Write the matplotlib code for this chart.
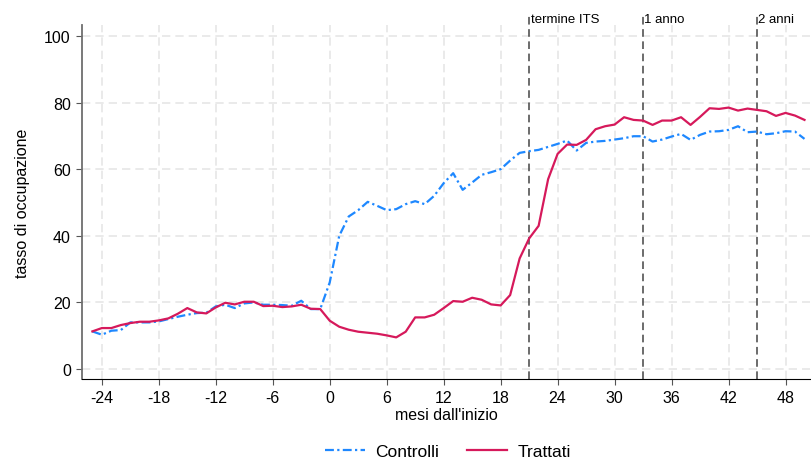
"""Tasso di occupazione: controlli vs trattati, mesi dall'inizio."""
import matplotlib

matplotlib.use("Agg")

import matplotlib.pyplot as plt

plt.rcParams["font.family"] = ["Liberation Sans", "DejaVu Sans"]
plt.rcParams["axes.unicode_minus"] = False

months = list(range(-25, 51))

controlli = [
    11.3, 10.3, 11.5, 11.7, 14.0, 14.0, 14.0, 14.3, 15.0, 15.7,
    16.3, 16.8, 16.9, 18.8, 19.3, 18.3, 19.7, 20.0, 19.3, 19.3,
    19.2, 19.0, 20.5, 18.0, 18.0, 26.0, 40.0, 45.8, 47.7, 50.2,
    49.0, 47.7, 48.0, 49.5, 50.4, 49.5, 52.0, 55.8, 58.8, 53.8,
    56.0, 58.3, 59.1, 60.0, 62.6, 64.9, 65.4, 65.8, 66.7, 67.6,
    68.6, 65.6, 67.9, 68.3, 68.5, 68.9, 69.3, 69.9, 69.9, 68.3,
    68.9, 69.8, 70.6, 68.8, 70.3, 71.3, 71.4, 71.8, 72.9, 71.1,
    71.3, 70.5, 70.8, 71.4, 71.3, 69.1,
]

trattati = [
    11.3, 12.3, 12.3, 13.2, 13.8, 14.2, 14.2, 14.6, 15.2, 16.6,
    18.3, 17.0, 16.7, 18.5, 19.9, 19.4, 20.2, 20.2, 18.9, 19.0,
    18.6, 18.8, 19.3, 18.1, 18.0, 14.5, 12.7, 11.8, 11.2, 10.9,
    10.6, 10.1, 9.5, 11.2, 15.5, 15.5, 16.3, 18.3, 20.4, 20.2,
    21.4, 20.8, 19.4, 19.1, 22.2, 33.2, 39.2, 43.0, 57.0, 64.6,
    67.4, 67.3, 68.8, 72.0, 72.9, 73.4, 75.6, 74.8, 74.6, 73.3,
    74.6, 74.6, 75.6, 73.3, 75.7, 78.3, 78.1, 78.5, 77.6, 78.2,
    77.8, 77.4, 76.0, 76.9, 76.1, 74.8,
]

ref_months = [21, 33, 45]
ref_labels = ["termine ITS", "1 anno", "2 anni"]

x_ticks = list(range(-24, 49, 6))
y_ticks = [0, 20, 40, 60, 80, 100]

fig = plt.figure(figsize=(8.11, 4.64), dpi=100)
ax = fig.add_axes([0.101, 0.181, 0.898, 0.763])

for yt in y_ticks:
    ax.axhline(yt, color="#e6e6e6", lw=1.2, ls=(0, (5, 3)), zorder=0)
for xt in x_ticks:
    ax.axvline(xt, color="#e6e6e6", lw=1.2, ls=(0, (5, 3)), zorder=0)

ax.plot(months, controlli, color="#1e88ff", lw=1.6, ls=(0, (4, 1.5, 1, 1.5)),
        label="Controlli", zorder=3)
ax.plot(months, trattati, color="#d6195b", lw=1.6, label="Trattati", zorder=3)

# vertical reference lines reach a bit above the plot area, labels on top
for m, lab in zip(ref_months, ref_labels):
    ax.plot([m, m], [-3, 106.3], color="#444444", lw=1.1, ls=(0, (5, 3)),
            zorder=2, clip_on=False)
    ax.text(m + 0.15, 105.2, lab, ha="left", va="center", fontsize=9.5)

ax.set_xlim(-26.1, 50.6)
ax.set_ylim(-3, 103.3)
ax.set_xticks(x_ticks)
ax.set_yticks(y_ticks)
ax.tick_params(axis="both", labelsize=11.5, direction="out", length=4.5,
               colors="#555555", labelcolor="black")
ax.set_xlabel("mesi dall'inizio", fontsize=11.5, labelpad=1)
ax.set_ylabel("tasso di occupazione", fontsize=11.5, labelpad=10)

for side in ("top", "right"):
    ax.spines[side].set_visible(False)
ax.spines["left"].set_color("#6e6e6e")
ax.spines["left"].set_linewidth(1.3)
ax.spines["bottom"].set_color("black")

fig.legend(loc="lower center", bbox_to_anchor=(0.552, -0.025), ncol=2,
           frameon=False, fontsize=12.5, handlelength=2.3, handletextpad=0.6,
           columnspacing=1.6)

fig.savefig("out.png", dpi=100)
plt.close(fig)
